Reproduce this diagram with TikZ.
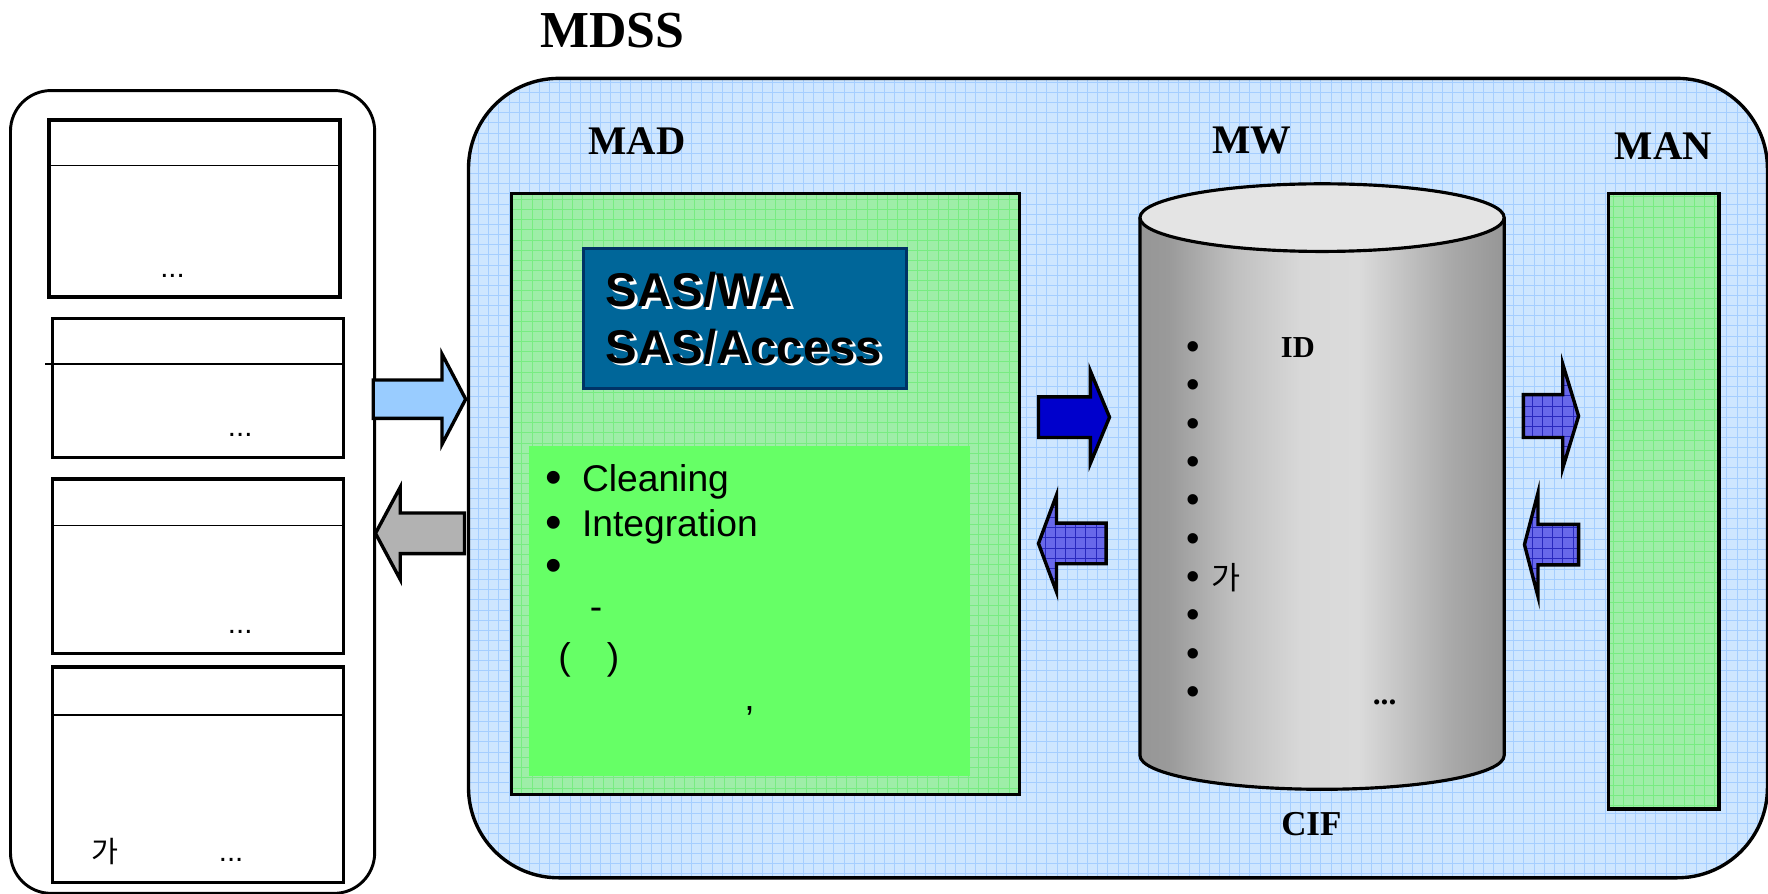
\documentclass[tikz,border=0pt]{standalone}
\usepackage{fontspec}
\setmainfont{Liberation Serif}
\newfontfamily\arialfont{Liberation Sans}
\newfontfamily\krfont{Noto Sans CJK KR}

\definecolor{panelblue}{RGB}{206,230,255}
\definecolor{gridblue}{RGB}{165,206,255}
\definecolor{madgreen}{RGB}{158,238,168}
\definecolor{gridgreen}{RGB}{120,236,130}
\definecolor{brightgreen}{RGB}{102,255,102}
\definecolor{sasblue}{RGB}{0,102,153}
\definecolor{sasedge}{RGB}{0,51,102}
\definecolor{inblue}{RGB}{153,204,255}
\definecolor{outgray}{RGB}{178,178,178}
\definecolor{deepblue}{RGB}{0,0,204}
\definecolor{checkblue}{RGB}{104,104,234}
\definecolor{checkline}{RGB}{40,40,190}
\definecolor{cylA}{RGB}{150,150,150}
\definecolor{cylB}{RGB}{154,154,154}
\definecolor{cylC}{RGB}{192,192,192}
\definecolor{cylD}{RGB}{216,216,216}
\definecolor{cylE}{RGB}{219,219,219}
\definecolor{cylF}{RGB}{168,168,168}
\definecolor{cyltop}{RGB}{228,228,228}

% side of the drum: dark at the rims, light in the middle
\pgfdeclarehorizontalshading{drumside}{100bp}{color(0bp)=(cylA); color(25bp)=(cylA);
  color(29bp)=(cylB); color(38bp)=(cylC); color(47bp)=(cylD); color(55bp)=(cylE);
  color(68bp)=(cylF); color(75bp)=(cylA); color(100bp)=(cylA)}

% block arrow: shaft start, head base, tip, centre y, half shaft, half head
\newcommand\blockarrow[7][]{%
  \draw[#1] (#2,{#5-#6}) -- (#3,{#5-#6}) -- (#3,{#5-#7}) -- (#4,#5)
    -- (#3,{#5+#7}) -- (#3,{#5+#6}) -- (#2,{#5+#6}) -- cycle;}

\tikzset{
  heading/.style={font=\bfseries\fontsize{36}{40}\selectfont, inner sep=0},
  tablebox/.style={draw, line width=3.2pt, fill=white, anchor=north west, inner sep=0},
  tablerule/.style={line width=1.3pt},
  dots/.style={font=\arialfont\fontsize{26}{30}\selectfont, anchor=base, inner sep=0},
  hangul/.style={font=\krfont\fontsize{26}{30}\selectfont, inner sep=0},
  bluegrid/.style={path picture={\draw[gridblue, line width=0.8pt, step=9pt]
      (path picture bounding box.south west) grid (path picture bounding box.north east);}},
  greengrid/.style={path picture={\draw[gridgreen, line width=0.8pt, step=9pt]
      (path picture bounding box.south west) grid (path picture bounding box.north east);}},
  greenpanel/.style={draw, line width=2.8pt, fill=madgreen, greengrid, anchor=north west, inner sep=0},
  arrowbase/.style={draw=black, line width=3pt, line join=miter},
  checkarrow/.style={arrowbase, fill=checkblue, path picture={\draw[checkline, line width=0.7pt, step=9pt]
      (path picture bounding box.south west) grid (path picture bounding box.north east);}},
  sastext/.style={font=\arialfont\bfseries\fontsize{42}{48}\selectfont, anchor=base west, inner sep=0},
  listtext/.style={font=\arialfont\fontsize{33}{38}\selectfont, anchor=base west, inner sep=0},
  listbullet/.style={font=\arialfont\fontsize{42}{46}\selectfont, inner sep=0},
  drumbullet/.style={font=\arialfont\fontsize{34}{38}\selectfont, inner sep=0},
}

\begin{document}
\begin{tikzpicture}[x=1pt, y=-1pt]
\useasboundingbox (0,0) rectangle (1568,792);

% title
\node[heading, font=\bfseries\fontsize{46}{50}\selectfont] (title) at (543,27) {MDSS};

% left source column with its four tables
\node[draw, line width=2.6pt, rounded corners=36pt, minimum width=323pt, minimum height=712pt,
      anchor=north west, inner sep=0] (src) at (8,79) {};
\node[tablebox, minimum width=258pt, minimum height=157pt] (t1) at (42,105) {};
\node[tablebox, minimum width=258pt, minimum height=123pt] (t2) at (45,281) {};
\node[tablebox, minimum width=258pt, minimum height=155pt] (t3) at (45,423) {};
\node[tablebox, minimum width=258pt, minimum height=191pt] (t4) at (45,590) {};
\draw[tablerule] (t1.west |- 0,147) -- (t1.east |- 0,147);
\draw[tablerule] (40,323) -- (t2.east |- 0,323);
\draw[tablerule] (48,466) -- (t3.east |- 0,466);
\draw[tablerule] (48,634) -- (t4.east |- 0,634);
\node[dots] (d1) at (153,246) {...};
\node[dots] (d2) at (213,387) {...};
\node[dots] (d3) at (213,562) {...};
\node[dots] (d4) at (205,764) {...};
\node[hangul] (k1) at (93,755) {가};

% main panel
\node[draw, line width=3pt, rounded corners=80pt, fill=panelblue, bluegrid,
      minimum width=1152pt, minimum height=709pt, anchor=north west, inner sep=0] (mdss) at (414,68) {};

\node[heading] (madlabel) at (565,125) {MAD};
\node[heading] (mwlabel) at (1110,125) {MW};
\node[heading] (manlabel) at (1475,130) {MAN};

% MAD panel
\node[greenpanel, minimum width=451pt, minimum height=533pt] (mad) at (452,170) {};
\node[draw=sasedge, line width=2.5pt, fill=sasblue, minimum width=287pt, minimum height=124pt,
      anchor=north west, inner sep=0] (sas) at (516,219) {};
\node[sastext, text=white] at (539.5,274.5) {SAS/WA};
\node[sastext] (saswa) at (537,272) {SAS/WA};
\node[sastext, text=white] at (539.5,324.5) {SAS/Access};
\node[sastext] (sasacc) at (537,322) {SAS/Access};

\node[fill=brightgreen, minimum width=391pt, minimum height=293pt, anchor=north west, inner sep=0]
      (tasks) at (469,395) {};
\node[listbullet] (b1) at (491,428) {•};
\node[listtext] (clean) at (516,436) {Cleaning};
\node[listbullet] (b2) at (491,468) {•};
\node[listtext] (integ) at (516,476) {Integration};
\node[listbullet] (b3) at (491,506) {•};
\node[listtext] (dash) at (523,549) {-};
\node[listtext] (parl) at (495,594) {(};
\node[listtext] (parr) at (538,594) {)};
\node[listtext] (comma) at (660,630) {,};

% warehouse drum
\coordinate (drumtop) at (1172.5,193);
\coordinate (drumbot) at (1172.5,670);
\path[shading=drumside] (1011,193) -- (1011,670)
   arc[start angle=180, end angle=360, x radius=161.5pt, y radius=30pt] -- (1334,193) -- cycle;
\draw[line width=2.8pt] (1011,193) -- (1011,670)
   arc[start angle=180, end angle=360, x radius=161.5pt, y radius=30pt] -- (1334,193);
\draw[line width=2.8pt, fill=cyltop] (drumtop) ellipse [x radius=161.5pt, y radius=30pt];
\node (drum) at (1172.5,430) {};

\foreach \k in {0,...,9}
  \node[drumbullet] (db\k) at (1058,{311+34*\k}) {•};
\node[heading, font=\bfseries\fontsize{27}{30}\selectfont] (idlabel) at (1151,308) {ID};
\node[hangul, font=\krfont\fontsize{28}{32}\selectfont] (k2) at (1087,512) {가};
\node[font=\bfseries\fontsize{28}{30}\selectfont, anchor=base, inner sep=0] (d5) at (1228,625) {...};
\node[heading, font=\bfseries\fontsize{31}{34}\selectfont] (cif) at (1163,731) {CIF};

% MAN panel
\node[greenpanel, line width=3pt, minimum width=98pt, minimum height=546pt] (man) at (1425,170) {};

% flows between the parts
\blockarrow[arrowbase, fill=inblue]{331}{392}{413}{354}{17}{40}
\blockarrow[arrowbase, fill=outgray]{412}{355}{333}{473}{18}{41}
\blockarrow[arrowbase, fill=deepblue]{921}{967}{984}{370}{18}{41}
\blockarrow[checkarrow]{981}{937}{921}{482}{18}{43}
\blockarrow[checkarrow]{1351}{1386}{1400}{369}{19}{46}
\blockarrow[checkarrow]{1400}{1364}{1352}{483}{18}{46}
\end{tikzpicture}
\end{document}
